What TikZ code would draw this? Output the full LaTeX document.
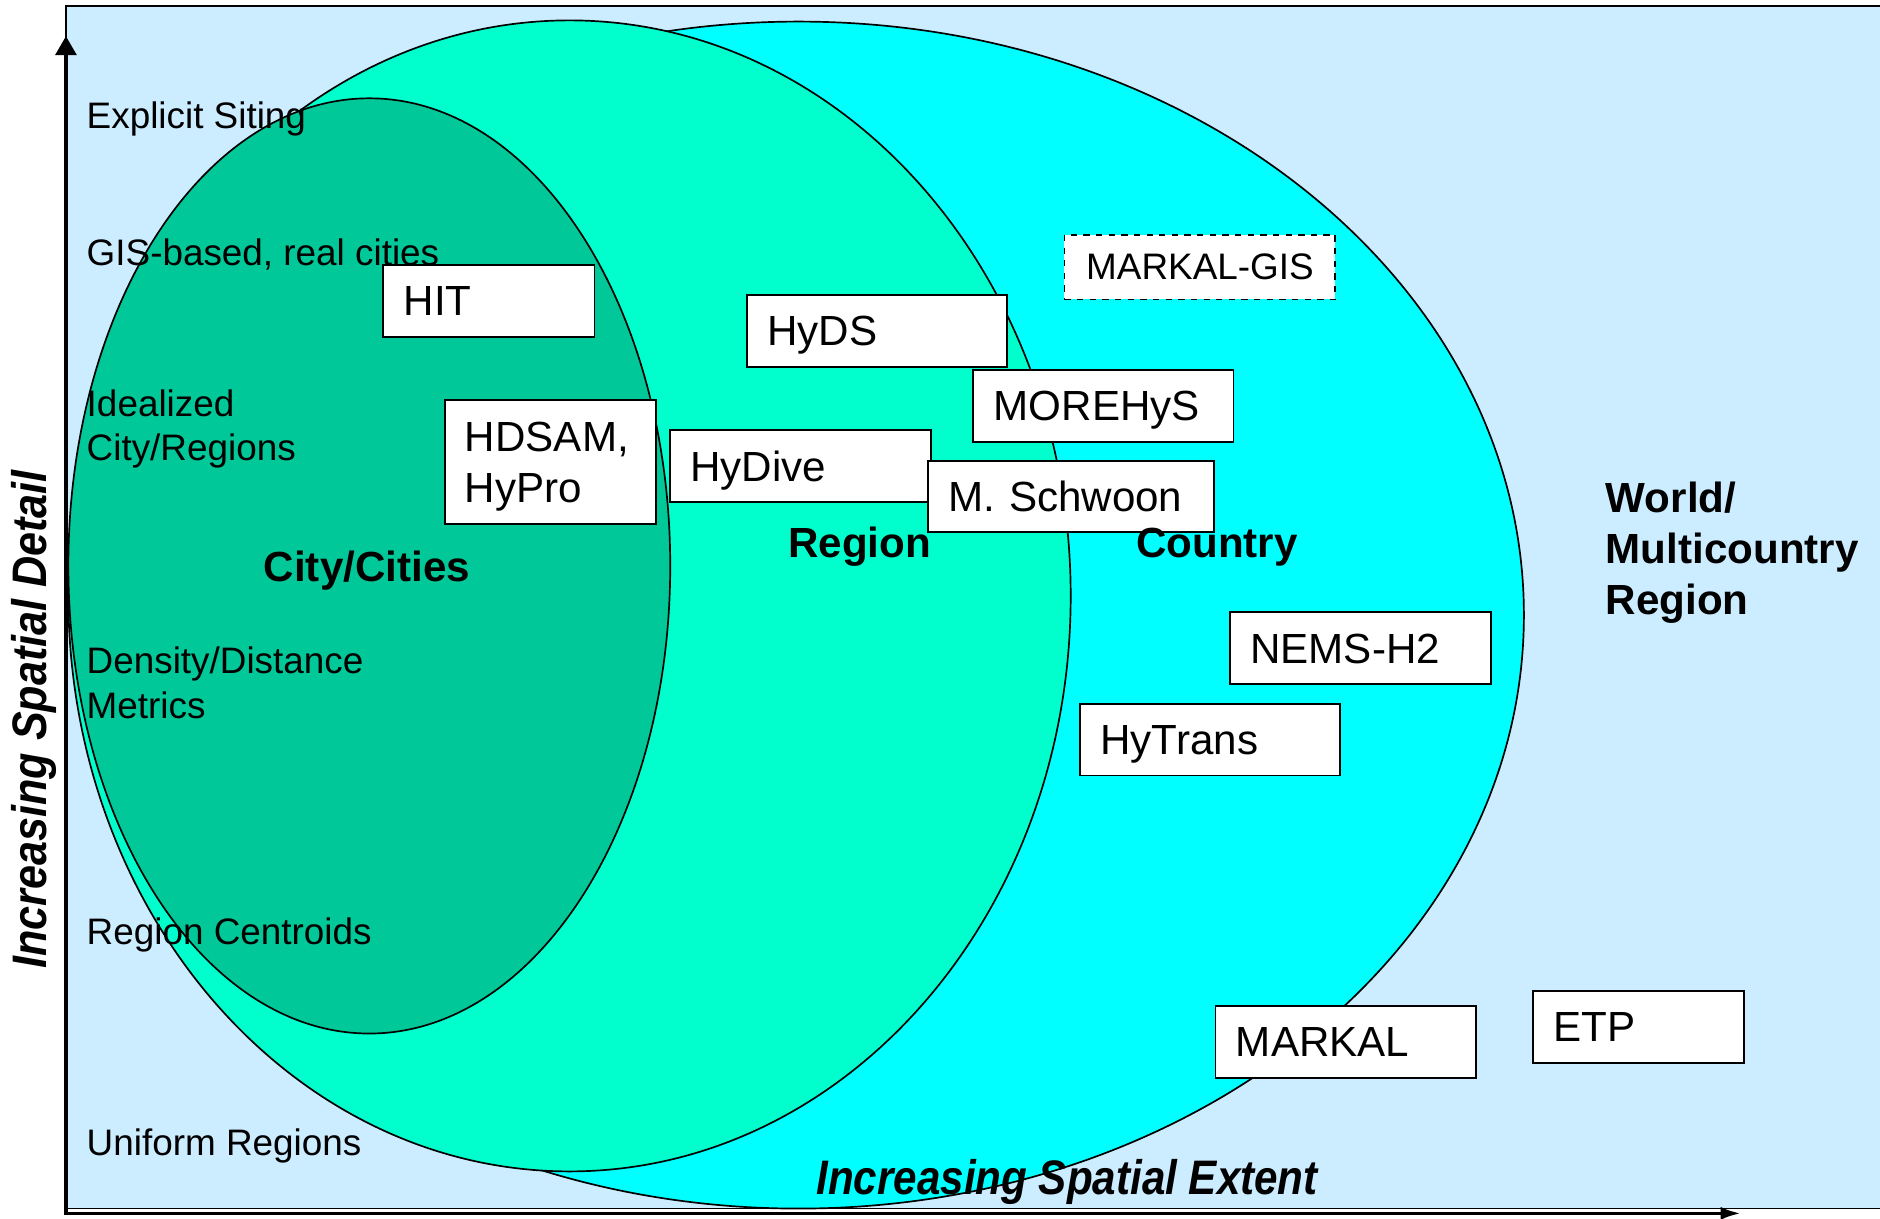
\documentclass[tikz,border=0pt]{standalone}
\usepackage{fontspec}
\setmainfont{Liberation Sans}
\usetikzlibrary{arrows.meta, positioning}
\definecolor{skyback}{RGB}{204,236,255}
\definecolor{worldcyan}{RGB}{0,255,255}
\definecolor{regiongreen}{RGB}{0,255,204}
\definecolor{citygreen}{RGB}{0,200,152}
\tikzstyle{arrow} = [line width=0.8mm, -{Triangle[length=3.2mm, width=3.4mm]}]

\begin{document}
\begin{tikzpicture}[
        x=0.2mm, y=-0.2mm,
        every node/.style={font=\fontsize{17.5}{21}\selectfont},
        level/.style={anchor=west, align=left, inner sep=0pt},
        model/.style={rectangle, draw, fill=white, line width=0.9pt,
            anchor=north west, inner xsep=3.4mm, inner ysep=0pt,
            minimum height=12mm, align=left, text width=#1, text depth=0pt,
            font=\fontsize{20}{24}\selectfont},
        zone/.style={font=\fontsize{20}{24.4}\selectfont\bfseries, align=left},
        axislabel/.style={font=\fontsize{23}{27}\selectfont\bfseries\itshape},
        blob/.style={draw, line width=0.8pt}
    ]
    \useasboundingbox (0,0) rectangle (1568,1016);
    \draw [fill=skyback, line width=0.6pt] (55,5) rectangle (1590,1008);

    % nested extents
    \draw [blob, fill=worldcyan]   (666,513) ellipse [x radius=605, y radius=495];
    \draw [blob, fill=regiongreen] (475,497) ellipse [x radius=418, y radius=480];
    \draw [blob, fill=citygreen]   (308,472) ellipse [x radius=251, y radius=390];

    % axes
    \draw [arrow] (55,1012) -- (55,30);
    \draw [line width=0.6mm, -{Latex[length=3.4mm, width=2.2mm]}] (53,1012) -- (1452,1012);

    % models
    \node (hit)     [model=28.4mm] at (319,220) {HIT};
    \node (hdsam)   [model=28.4mm, text depth={}, minimum height=20.6mm] at (370,333)
        {\rule{0pt}{6.5mm}HDSAM,\\HyPro};
    \node (hyds)    [model=36.6mm] at (622,245) {HyDS};
    \node (hydive)  [model=36.8mm] at (558,358) {HyDive};
    \node (morehys) [model=36.6mm] at (811,308) {MOREHyS};
    \node (schwoon) [model=41mm, minimum height=11.8mm] at (773,384) {M. Schwoon};
    \node (markalgis) [model=38.4mm, dashed, align=center, minimum height=10.8mm,
        font=\fontsize{17.5}{21}\selectfont] at (887,195) {MARKAL-GIS};
    \node (nems)    [model=36.8mm] at (1025,510) {NEMS-H2};
    \node (hytrans) [model=36.6mm] at (900,586) {HyTrans};
    \node (markal)  [model=36.6mm] at (1013,838) {MARKAL};
    \node (etp)     [model=28.4mm] at (1278,826) {ETP};

    % detail levels
    \node (siting)   [level] at (72,99)    {Explicit Siting};
    \node (gis)      [level] at (72,212)   {GIS-based, real cities};
    \node (ideal)    [level] at (72,357.5) {Idealized\\City/Regions};
    \node (density)  [level] at (72,569.5) {Density/Distance\\Metrics};
    \node (centroid) [level] at (72,780)   {Region Centroids};
    \node (uniform)  [level] at (72,956)   {Uniform Regions};

    % extents
    \node (city)    [zone] at (306,476)  {City/Cities};
    \node (region)  [zone] at (717,456)  {Region};
    \node (country) [zone] at (1015,456) {Country};
    \node (world)   [zone, anchor=west, inner sep=0pt] at (1339,461)
        {World/\\Multicountry\\Region};

    \node (extent) [axislabel] at (890,986)
        {\scalebox{0.87}[1]{Increasing Spatial Extent}};
    \node (detail) [axislabel, rotate=90] at (28,600)
        {\scalebox{0.89}[1]{Increasing Spatial Detail}};
\end{tikzpicture}
\end{document}
